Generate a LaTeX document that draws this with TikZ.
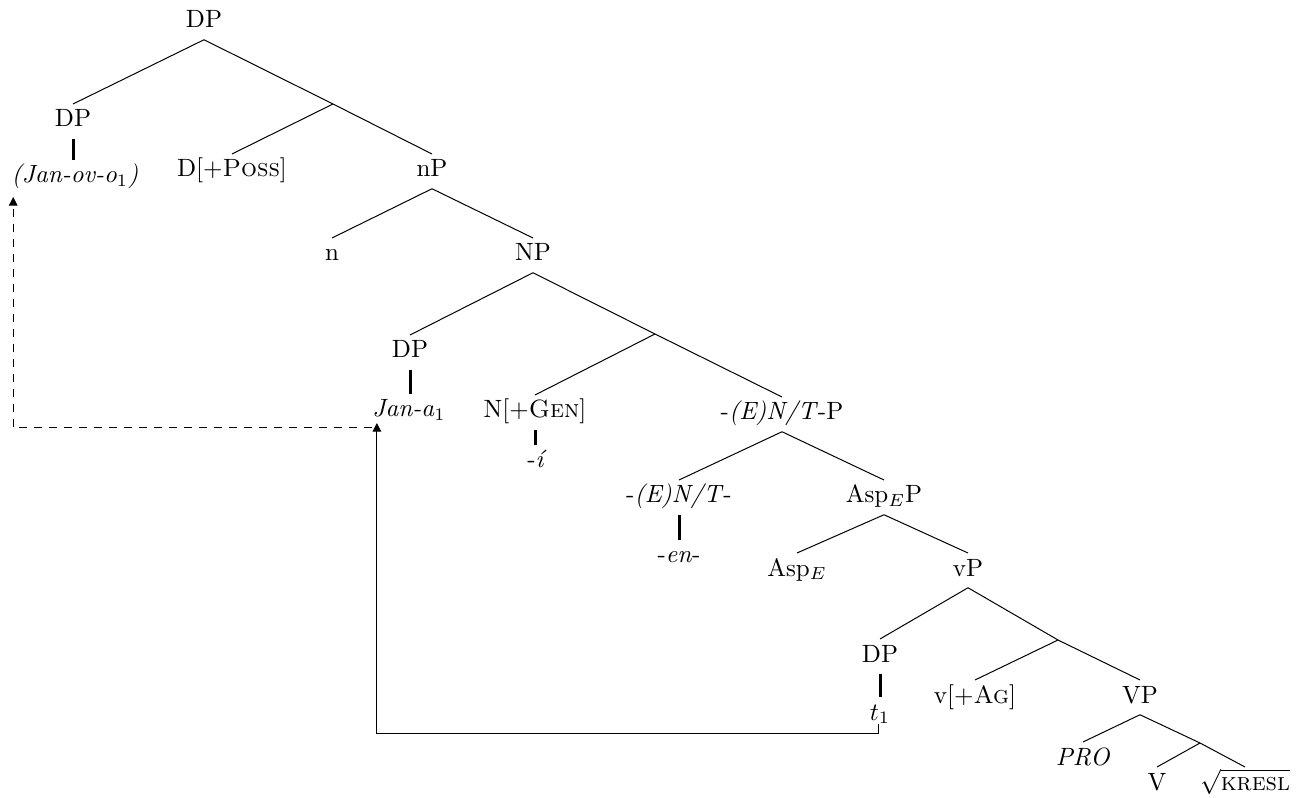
\documentclass[tikz,border=0pt]{standalone}
\usepackage{amssymb,amsmath}
\usetikzlibrary{calc,arrows.meta}

\begin{document}
\begin{tikzpicture}[x=0.4pt, y=-0.4pt,
		cat/.style={anchor=base, inner sep=2pt, text height=7pt, text depth=2.5pt},
		bar/.style={line width=1.2pt},
		movearrow/.style={-{Triangle[length=3.5pt,width=3.5pt]}}]
		\useasboundingbox (0,0) rectangle (1300,798);
		% categories, placed on their baselines
		\node[cat] (dp0) at (204,28) {DP};
		\node[cat] (dp1) at (73,127) {DP};
		\node[cat] (jov) at (75,183) {\textit{(Jan-ov-o$_1$)}};
		\node[cat] (poss) at (232,177) {D[+\textsc{Poss}]};
		\node[cat] (np0) at (432,177) {nP};
		\node[cat] (n) at (332,261) {n};
		\node[cat] (NP) at (533,261) {NP};
		\node[cat] (dp2) at (410,358) {DP};
		\node[cat] (jana) at (409,417) {\textit{Jan-a}$_1$};
		\node[cat] (gen) at (535,418) {N[+\textsc{Gen}]};
		\node[cat] (ii) at (537,468) {-\textit{í}};
		\node[cat] (entp) at (782,420) {-\textit{(E)N/T}-P};
		\node[cat] (ent) at (679,503) {-\textit{(E)N/T}-};
		\node[cat] (aspp) at (884,503) {Asp$_E$P};
		\node[cat] (en) at (679,563) {-\textit{en}-};
		\node[cat] (asp) at (797,576) {Asp$_E$};
		\node[cat] (vp) at (968,576) {vP};
		\node[cat] (dp3) at (880,662) {DP};
		\node[cat] (t1) at (880,720) {$t_1$};
		\node[cat] (ag) at (975,703) {v[+\textsc{Ag}]};
		\node[cat] (VP) at (1140,703) {VP};
		\node[cat] (pro) at (1083,765) {\textit{PRO}};
		\node[cat] (v) at (1157,790) {V};
		\node[cat] (kresl) at (1245,790) {$\sqrt{\text{\textsc{kresl}}}$};
		% unlabelled branch points
		\coordinate (b1) at (333,104);
		\coordinate (b2) at (655,334);
		\coordinate (b3) at (1058,640);
		\coordinate (b4) at (1200,743);
		% branches
		\draw (dp0.south) -- (dp1.north);
		\draw (dp0.south) -- (b1) -- (np0.north);
		\draw (b1) -- (poss.north);
		\draw[bar] (dp1.south) -- (dp1.south |- jov.north);
		\draw (np0.south) -- (n.north);
		\draw (np0.south) -- (NP.north);
		\draw (NP.south) -- (dp2.north);
		\draw (NP.south) -- (b2) -- (entp.north);
		\draw (b2) -- (gen.north);
		\draw[bar] (dp2.south) -- (dp2.south |- jana.north);
		\draw[bar] (gen.south) -- (gen.south |- ii.north);
		\draw (entp.south) -- (ent.north);
		\draw (entp.south) -- (aspp.north);
		\draw[bar] (ent.south) -- (ent.south |- en.north);
		\draw (aspp.south) -- (asp.north);
		\draw (aspp.south) -- (vp.north);
		\draw (vp.south) -- (dp3.north);
		\draw (vp.south) -- (b3) -- (VP.north);
		\draw (b3) -- (ag.north);
		\draw[bar] (dp3.south) -- (dp3.south |- t1.north);
		\draw (VP.south) -- (pro.north);
		\draw (VP.south) -- (b4) -- (kresl.north);
		\draw (b4) -- (v.north);
		% movement
		\coordinate (hit) at ($(jana.base west)+(10,6)$);
		\draw[movearrow] ($(t1.base)+(-2,4)$) -- ++(0,9) -| (hit);
		\draw[movearrow, dashed] ($(jana.base west)+(5,11)$) -| ($(jov.base west)+(7,14)$);
	\end{tikzpicture}
\end{document}
